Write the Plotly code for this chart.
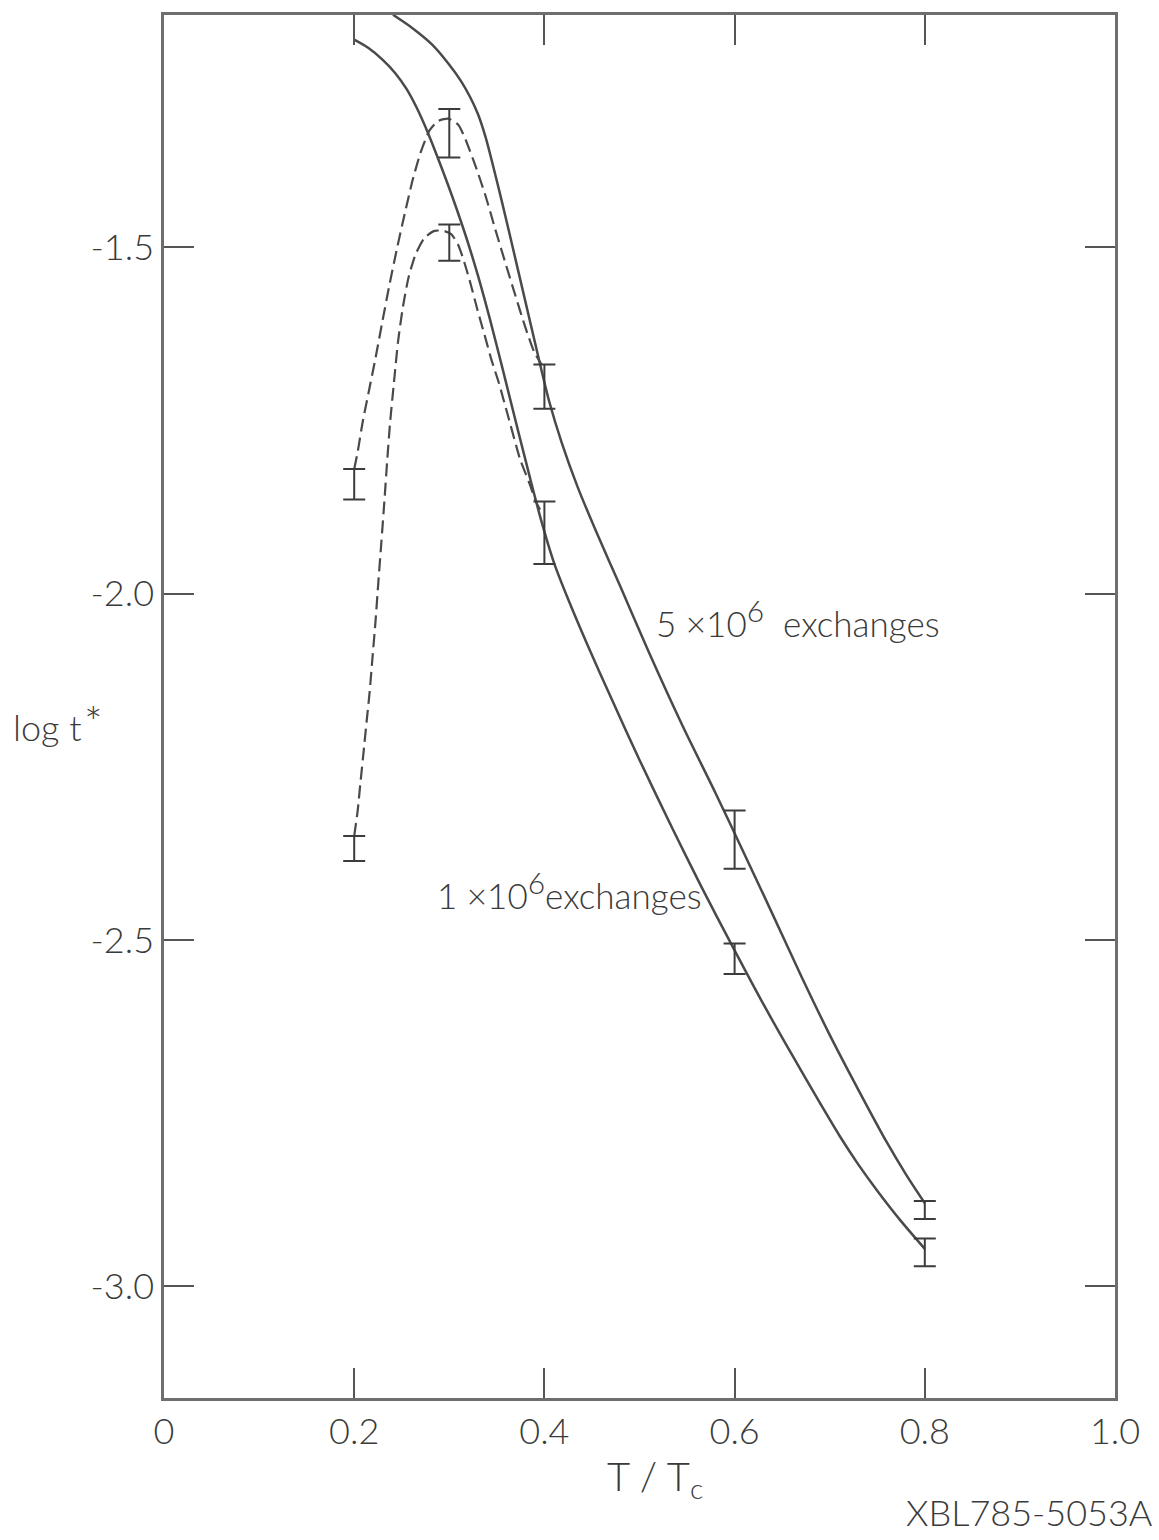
import plotly.graph_objects as go

# ---------------- data ----------------
T_bars = [0.2, 0.3, 0.4, 0.6, 0.8]
bar_5e6 = [-1.842, -1.335, -1.701, -2.355, -2.890]
err_5e6 = [0.022, 0.035, 0.032, 0.042, 0.013]
bar_1e6 = [-2.368, -1.493, -1.912, -2.527, -2.951]
err_1e6 = [0.018, 0.026, 0.045, 0.022, 0.020]

solid_5e6_T = [0.2408, 0.262, 0.282, 0.300, 0.312, 0.322, 0.330, 0.338, 0.346,
               0.355, 0.365, 0.380, 0.395, 0.405, 0.418, 0.435, 0.455, 0.480,
               0.510, 0.545, 0.580, 0.610, 0.640, 0.670, 0.700, 0.730, 0.760,
               0.780, 0.800]
solid_5e6_v = [-1.164, -1.184, -1.207, -1.236, -1.259, -1.283, -1.307, -1.340,
               -1.382, -1.432, -1.490, -1.578, -1.666, -1.722, -1.781, -1.846,
               -1.912, -1.990, -2.085, -2.190, -2.288, -2.375, -2.463, -2.552,
               -2.637, -2.716, -2.792, -2.838, -2.880]

solid_1e6_T = [0.200, 0.215, 0.230, 0.243, 0.255, 0.266, 0.278, 0.290, 0.303,
               0.317, 0.330, 0.343, 0.356, 0.370, 0.384, 0.397, 0.410, 0.425,
               0.445, 0.470, 0.500, 0.535, 0.565, 0.600, 0.630, 0.660, 0.690,
               0.710, 0.730, 0.750, 0.775, 0.800]
solid_1e6_v = [-1.200, -1.212, -1.229, -1.248, -1.271, -1.299, -1.336, -1.378,
               -1.426, -1.482, -1.540, -1.605, -1.675, -1.752, -1.828, -1.896,
               -1.955, -2.008, -2.073, -2.150, -2.240, -2.340, -2.423, -2.515,
               -2.592, -2.665, -2.736, -2.782, -2.824, -2.862, -2.906, -2.946]

dashed_5e6_T = [0.200, 0.2037, 0.2089, 0.2152, 0.2225, 0.2299, 0.2372, 0.2446,
                0.2530, 0.2614, 0.2698, 0.2792, 0.2887, 0.2991, 0.3096, 0.3170,
                0.3275, 0.3380, 0.3484, 0.3589, 0.3694, 0.3799, 0.3893, 0.3975]
dashed_5e6_v = [-1.820, -1.795, -1.752, -1.709, -1.659, -1.605, -1.553, -1.504,
                -1.452, -1.403, -1.363, -1.331, -1.317, -1.314, -1.323, -1.344,
                -1.382, -1.425, -1.474, -1.522, -1.569, -1.615, -1.651, -1.670]

dashed_1e6_T = [0.200, 0.2036, 0.2067, 0.2099, 0.2131, 0.2163, 0.2193, 0.2224,
                0.2254, 0.2286, 0.2317, 0.2346, 0.2378, 0.2418, 0.2460, 0.2512,
                0.2572, 0.2645, 0.2740, 0.2845, 0.2939, 0.3023, 0.3096, 0.3159,
                0.3225, 0.3298, 0.3372, 0.3445, 0.3520, 0.3615, 0.3743, 0.3838,
                0.3911, 0.398]
dashed_1e6_v = [-2.350, -2.314, -2.271, -2.228, -2.184, -2.141, -2.091, -2.040,
                -1.983, -1.925, -1.867, -1.810, -1.752, -1.695, -1.637, -1.586,
                -1.543, -1.510, -1.486, -1.476, -1.476, -1.481, -1.497, -1.522,
                -1.553, -1.591, -1.627, -1.663, -1.695, -1.742, -1.805, -1.839,
                -1.867, -1.885]

x_tickvals = [0, 0.2, 0.4, 0.6, 0.8, 1.0]
x_ticktext = ["0", "0.2", "0.4", "0.6", "0.8", "1.0"]
y_tickvals = [-1.5, -2.0, -2.5, -3.0]
y_ticktext = ["-1.5", "-2.0", "-2.5", "-3.0"]

# ---------------- figure ----------------
INK = "#4a4a4a"
TXT = "#3a3a3a"
FONT = "Lato, Open Sans, sans-serif"

fig = go.Figure()

for T, v in [(solid_5e6_T, solid_5e6_v), (solid_1e6_T, solid_1e6_v)]:
    fig.add_trace(go.Scatter(x=T, y=v, mode="lines",
                             line=dict(color=INK, width=2.5, shape="spline", smoothing=0.8),
                             showlegend=False, hoverinfo="skip"))

for T, v in [(dashed_5e6_T, dashed_5e6_v), (dashed_1e6_T, dashed_1e6_v)]:
    fig.add_trace(go.Scatter(x=T, y=v, mode="lines",
                             line=dict(color=INK, width=2.2, dash="13px,6px",
                                       shape="spline", smoothing=0.6),
                             showlegend=False, hoverinfo="skip"))

for c, e in [(bar_5e6, err_5e6), (bar_1e6, err_1e6)]:
    fig.add_trace(go.Scatter(x=T_bars, y=c, mode="markers",
                             marker=dict(size=1, color=INK, opacity=0),
                             error_y=dict(type="data", array=e, visible=True,
                                          color="#3c3c3c", thickness=2, width=11),
                             showlegend=False, hoverinfo="skip"))

axis_common = dict(showline=True, linecolor="#6e6e6e", linewidth=2.5, mirror="ticks",
                   ticks="inside", ticklen=30, tickwidth=2, tickcolor="#555555",
                   showgrid=False, zeroline=False,
                   tickfont=dict(family=FONT, size=36, color=TXT, weight=300))

fig.update_xaxes(range=[0, 1.0], tickmode="array", tickvals=x_tickvals,
                 ticktext=x_ticktext, ticklabelstandoff=0, **axis_common)
fig.update_yaxes(range=[-3.1614, -1.1643], tickmode="array", tickvals=y_tickvals,
                 ticktext=y_ticktext, ticklabelstandoff=0, **axis_common)

ann_font = dict(family=FONT, size=35, color=TXT, weight=300)
fig.update_layout(
    width=1159, height=1540,
    margin=dict(l=164, r=44, t=12, b=142),
    paper_bgcolor="white", plot_bgcolor="white",
    annotations=[
        dict(text="log t", xref="paper", yref="paper",
             x=-0.1609, y=0.4855, xanchor="left", yanchor="middle",
             showarrow=False, font=dict(family=FONT, size=36, color=TXT, weight=300)),
        dict(text="*", xref="paper", yref="paper",
             x=-0.0862, y=0.4885, xanchor="left", yanchor="middle",
             showarrow=False, font=dict(family=FONT, size=44, color=TXT, weight=300)),
        dict(text="T / T<sub>c</sub>", xref="paper", yref="paper",
             x=0.5163, y=-0.0585, xanchor="center", yanchor="middle",
             showarrow=False, font=dict(family=FONT, size=40, color=TXT, weight=300)),
        dict(text="XBL785-5053A", xref="paper", yref="paper",
             x=1.0421, y=-0.0823, xanchor="right", yanchor="middle",
             showarrow=False, font=dict(family=FONT, size=36, color=TXT, weight=300)),
        dict(text="5 ×10<sup><span style='font-size:30px'>6</span></sup>  exchanges",
             xref="x", yref="y",
             x=0.5150, y=-2.0345, xanchor="left", yanchor="middle",
             showarrow=False, font=ann_font),
        dict(text="1 ×10<sup><span style='font-size:30px'>6</span></sup>exchanges",
             xref="x", yref="y",
             x=0.2850, y=-2.428, xanchor="left", yanchor="middle",
             showarrow=False, font=ann_font),
    ],
)

fig.write_html("out.html")
